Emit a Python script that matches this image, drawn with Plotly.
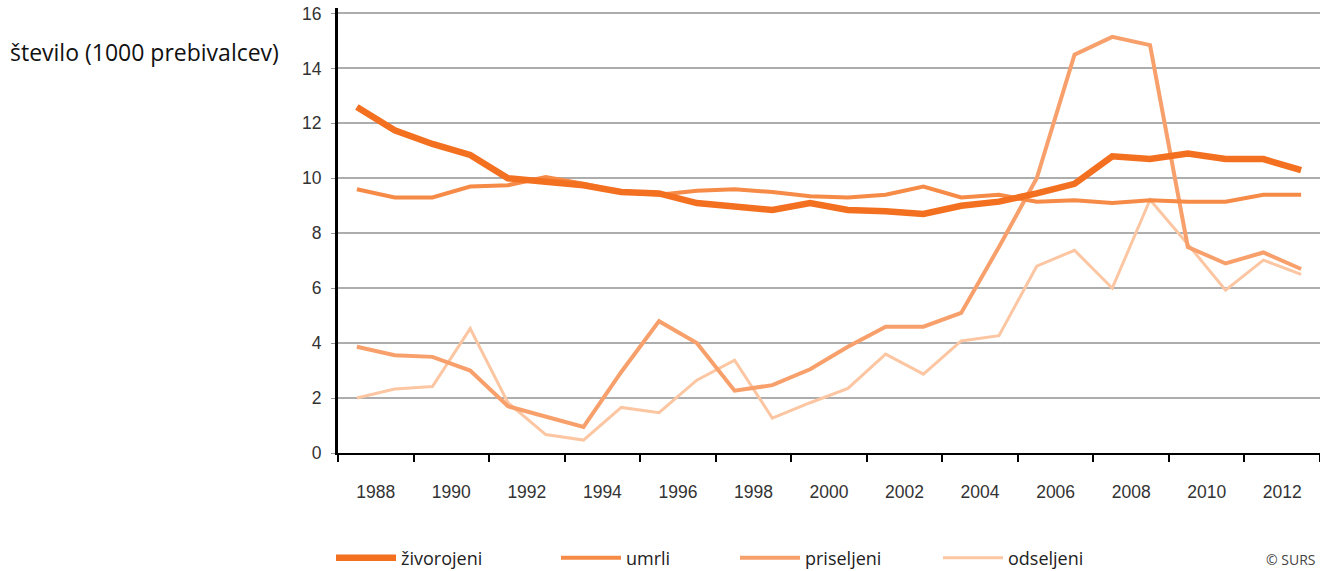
import plotly.graph_objects as go

years = list(range(1988, 2014))
zivorojeni = [12.6, 11.75, 11.25, 10.85, 10.0, 9.9, 9.75, 9.5, 9.45, 9.1, 9.0, 8.85, 9.1,
              8.85, 8.8, 8.7, 9.0, 9.15, 9.45, 9.8, 10.8, 10.7, 10.9, 10.7, 10.7, 10.3]
umrli = [9.6, 9.3, 9.3, 9.7, 9.75, 10.05, 9.8, 9.5, 9.4, 9.55, 9.6, 9.5, 9.35,
         9.3, 9.4, 9.7, 9.3, 9.4, 9.15, 9.2, 9.1, 9.2, 9.15, 9.15, 9.4, 9.4]
priseljeni = [3.87, 3.56, 3.5, 3.0, 1.7, 1.32, 0.95, 2.95, 4.8, 4.0, 2.27, 2.47, 3.05,
              3.87, 4.6, 4.6, 5.1, 7.5, 10.0, 14.5, 15.15, 14.85, 7.5, 6.9, 7.3, 6.7]
odseljeni = [2.0, 2.33, 2.42, 4.53, 1.83, 0.67, 0.47, 1.66, 1.47, 2.65, 3.38, 1.27, 1.83,
             2.35, 3.6, 2.87, 4.08, 4.27, 6.8, 7.38, 6.0, 9.22, 7.6, 5.93, 7.02, 6.5]
tick_labels = [str(y) for y in range(1988, 2013, 2)]

series = [
    ("odseljeni", odseljeni, "#FCC6A2", 3, "legend4"),
    ("priseljeni", priseljeni, "#F8A06C", 4, "legend3"),
    ("umrli", umrli, "#F68A47", 4, "legend2"),
    ("živorojeni", zivorojeni, "#F37021", 6.5, "legend"),
]

fig = go.Figure()
for name, vals, color, w, lg in series:
    fig.add_trace(go.Scatter(x=years, y=vals, mode="lines", name=name,
                             line=dict(color=color, width=w), legend=lg))

label_pos = [y + 0.5 for y in range(1988, 2013, 2)]
boundary = [y - 0.5 for y in range(1988, 2015, 2)]

W0, W1 = 338, 1320
def px2paper(px):
    return (px - W0) / (W1 - W0)

leg_y = -0.236
legfont = dict(family="Open Sans", size=18, color="#222222")
common = dict(orientation="h", yanchor="middle", y=leg_y, xanchor="left",
              font=legfont, bgcolor="rgba(0,0,0,0)", itemwidth=60)

fig.update_layout(
    width=1320, height=571,
    margin=dict(l=338, r=0, t=8, b=118, autoexpand=False),
    paper_bgcolor="white", plot_bgcolor="white",
    showlegend=True,
    legend=dict(x=px2paper(331), **common),
    legend2=dict(x=px2paper(556), **common),
    legend3=dict(x=px2paper(735), **common),
    legend4=dict(x=px2paper(938), **common),
    xaxis=dict(
        range=[1987.5, 2013.5], tickmode="array", tickvals=label_pos, ticktext=tick_labels,
        ticks="outside", ticklen=22, tickcolor="rgba(0,0,0,0)",
        tickfont=dict(family="Liberation Sans", size=17.5, color="#333333"),
        showgrid=False, zeroline=False,
        showline=True, linecolor="black", linewidth=2,
        minor=dict(tickmode="array", tickvals=boundary, ticks="outside", ticklen=7,
                   tickcolor="black", tickwidth=2, showgrid=False),
    ),
    yaxis=dict(
        range=[0, 16.2], tickmode="array", tickvals=list(range(0, 17, 2)),
        ticks="outside", ticklen=4, tickcolor="#999999", ticklabelstandoff=6,
        tickfont=dict(family="Liberation Sans", size=17.5, color="#333333"),
        showgrid=True, gridcolor="#ADADAD", gridwidth=2, zeroline=False,
        showline=True, linecolor="black", linewidth=3,
    ),
    annotations=[
        dict(text="število (1000 prebivalcev)", xref="paper", yref="paper",
             x=px2paper(8), y=(453 - 52) / 445, xanchor="left", yanchor="middle",
             showarrow=False, font=dict(family="Open Sans", size=23, color="#111111")),
        dict(text="© SURS", xref="paper", yref="paper",
             x=px2paper(1318), y=(453 - 559) / 445, xanchor="right", yanchor="middle",
             showarrow=False, font=dict(family="Open Sans", size=14, color="#444444")),
    ],
)

fig.write_html("out.html", config={"displayModeBar": False},
               post_script="document.body.style.margin='0';document.body.style.overflow='hidden';")
